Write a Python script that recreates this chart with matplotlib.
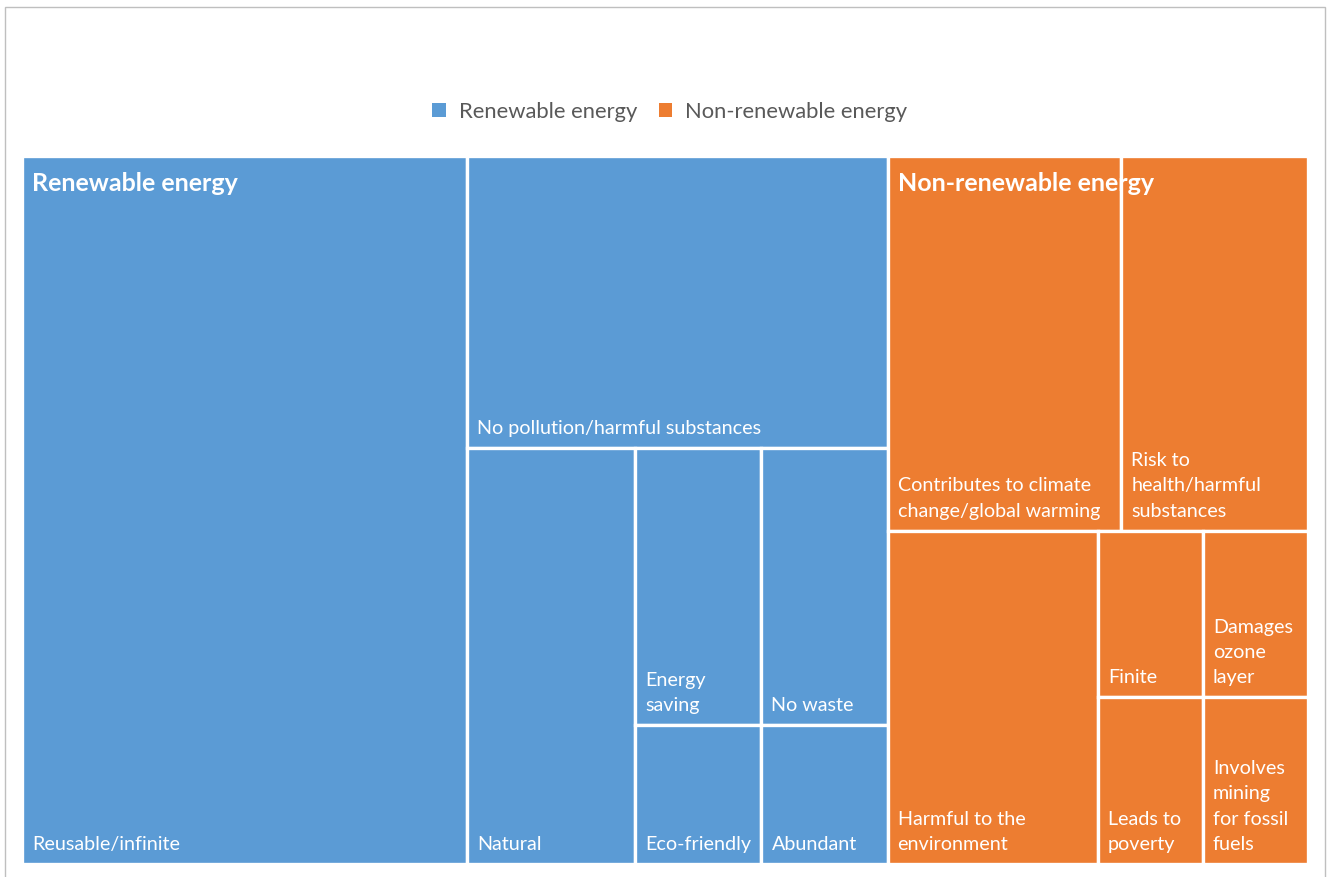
import matplotlib
matplotlib.use("Agg")
import matplotlib.pyplot as plt
from matplotlib.patches import Rectangle, Patch

plt.rcParams['font.family'] = ['Lato', 'DejaVu Sans']

# data (relative sizes)
groups = ["Renewable energy", "Non-renewable energy"]
group_colors = ["#5B9BD5", "#ED7D31"]

renew_labels = ["Reusable/infinite", "No pollution/harmful substances", "Natural",
                "Energy\nsaving", "No waste", "Eco-friendly", "Abundant"]
renew_values = [18, 7, 4, 2, 2, 1, 1]

nonrenew_labels = ["Contributes to climate\nchange/global warming", "Risk to\nhealth/harmful\nsubstances",
                   "Harmful to the\nenvironment", "Finite", "Damages\nozone\nlayer",
                   "Leads to\npoverty", "Involves\nmining\nfor fossil\nfuels"]
nonrenew_values = [5, 4, 4, 1, 1, 1, 1]

# how many items go into each strip of the squarified layout
group_breaks = [1, 1]
renew_breaks = [1, 1, 1, 2, 1, 1]
nonrenew_breaks = [2, 1, 2, 1, 1]


def layout(values, breaks, x, y, w, h):
    # strips laid along the shorter side of the remaining box
    rects = []
    i = 0
    for n in breaks:
        chunk = values[i:i + n]
        rest = sum(values[i:])
        s = sum(chunk)
        if w >= h:
            cw = w * s / rest
            yy = y
            for v in chunk:
                ch = h * v / s
                rects.append((x, yy, cw, ch))
                yy += ch
            x += cw
            w -= cw
        else:
            rh = h * s / rest
            xx = x
            for v in chunk:
                cw = w * v / s
                rects.append((xx, y, cw, rh))
                xx += cw
            y += rh
            h -= rh
        i += n
    return rects


W, H = 1286, 708
fig = plt.figure(figsize=(13.27, 8.77), dpi=100)
ax = fig.add_axes([22 / 1327, 13 / 877, W / 1327, H / 877])
ax.set_xlim(0, W)
ax.set_ylim(H, 0)
ax.axis('off')

# chart border
fig.patches.append(Rectangle((5 / 1327, -0.05), 1320 / 1327, 1.0 - 7 / 877 + 0.05,
                             transform=fig.transFigure, fill=False,
                             edgecolor="#bfbfbf", linewidth=1.0))

group_rects = layout([sum(renew_values), sum(nonrenew_values)], group_breaks, 0, 0, W, H)
children = [(renew_labels, renew_values, renew_breaks), (nonrenew_labels, nonrenew_values, nonrenew_breaks)]

for g, (gx, gy, gw, gh) in enumerate(group_rects):
    labels, values, breaks = children[g]
    for lab, (x, y, w, h) in zip(labels, layout(values, breaks, gx, gy, gw, gh)):
        ax.add_patch(Rectangle((x, y), w, h, facecolor=group_colors[g],
                               edgecolor="white", linewidth=2.4))
        ax.text(x + 10, y + h - 11, lab, color="white", fontsize=14.2,
                ha="left", va="bottom", linespacing=1.6)
    ax.text(gx + 10, gy + 27, groups[g], color="white", fontsize=18,
            fontweight="bold", ha="left", va="center")

handles = [Patch(facecolor=c, edgecolor="none", label=g) for g, c in zip(groups, group_colors)]
fig.legend(handles=handles, loc="center", bbox_to_anchor=(670 / 1327, 1 - 112 / 877), ncol=2,
           frameon=False, fontsize=15.8, labelcolor="#595959",
           handlelength=0.6, handleheight=0.6, handletextpad=0.6, columnspacing=1.0)

fig.savefig("out.png", dpi=100, facecolor="white")
